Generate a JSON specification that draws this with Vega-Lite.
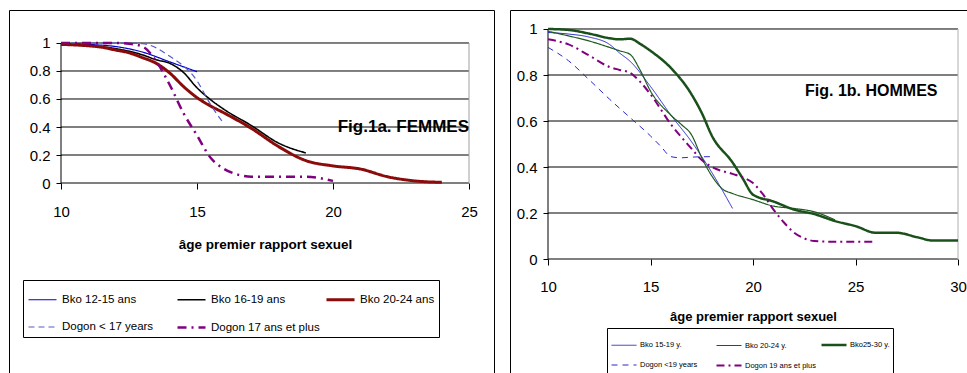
{
  "$schema": "https://vega.github.io/schema/vega-lite/v6.json",
  "background": "white",
  "padding": {"left": 8, "top": 9, "right": 0, "bottom": 0},
  "spacing": 14,
  "config": {
    "font": "Liberation Sans, Arial",
    "view": {"stroke": "black", "strokeWidth": 1},
    "axis": {"domain": false, "grid": false, "tickColor": "black", "labelColor": "black", "titleColor": "black", "labelFlush": false, "labelOverlap": false},
    "line": {"interpolate": "monotone"}
  },
  "datasets": {
    "grid": [{"g": 0}, {"g": 0.2}, {"g": 0.4}, {"g": 0.6}, {"g": 0.8}, {"g": 1}],
    "f": [
      {"s": "Bko 12-15 ans", "age": 10, "p": 0.998}, {"s": "Bko 12-15 ans", "age": 11, "p": 0.99}, {"s": "Bko 12-15 ans", "age": 12, "p": 0.975}, {"s": "Bko 12-15 ans", "age": 13, "p": 0.935}, {"s": "Bko 12-15 ans", "age": 14, "p": 0.865}, {"s": "Bko 12-15 ans", "age": 15, "p": 0.795},
      {"s": "Bko 16-19 ans", "age": 10, "p": 0.99}, {"s": "Bko 16-19 ans", "age": 11, "p": 0.98}, {"s": "Bko 16-19 ans", "age": 12, "p": 0.96}, {"s": "Bko 16-19 ans", "age": 13, "p": 0.915}, {"s": "Bko 16-19 ans", "age": 13.5, "p": 0.88}, {"s": "Bko 16-19 ans", "age": 14, "p": 0.855}, {"s": "Bko 16-19 ans", "age": 14.5, "p": 0.79}, {"s": "Bko 16-19 ans", "age": 15, "p": 0.68}, {"s": "Bko 16-19 ans", "age": 15.5, "p": 0.595}, {"s": "Bko 16-19 ans", "age": 16, "p": 0.525}, {"s": "Bko 16-19 ans", "age": 17, "p": 0.41}, {"s": "Bko 16-19 ans", "age": 18, "p": 0.285}, {"s": "Bko 16-19 ans", "age": 19, "p": 0.215},
      {"s": "Bko 20-24 ans", "age": 10, "p": 0.99}, {"s": "Bko 20-24 ans", "age": 11, "p": 0.98}, {"s": "Bko 20-24 ans", "age": 11.5, "p": 0.97}, {"s": "Bko 20-24 ans", "age": 12, "p": 0.95}, {"s": "Bko 20-24 ans", "age": 12.5, "p": 0.93}, {"s": "Bko 20-24 ans", "age": 13, "p": 0.895}, {"s": "Bko 20-24 ans", "age": 13.5, "p": 0.855}, {"s": "Bko 20-24 ans", "age": 14, "p": 0.785}, {"s": "Bko 20-24 ans", "age": 14.5, "p": 0.69}, {"s": "Bko 20-24 ans", "age": 15, "p": 0.61}, {"s": "Bko 20-24 ans", "age": 15.5, "p": 0.55}, {"s": "Bko 20-24 ans", "age": 16, "p": 0.5}, {"s": "Bko 20-24 ans", "age": 17, "p": 0.39}, {"s": "Bko 20-24 ans", "age": 18, "p": 0.26}, {"s": "Bko 20-24 ans", "age": 19, "p": 0.16}, {"s": "Bko 20-24 ans", "age": 20, "p": 0.122}, {"s": "Bko 20-24 ans", "age": 21, "p": 0.1}, {"s": "Bko 20-24 ans", "age": 22, "p": 0.045}, {"s": "Bko 20-24 ans", "age": 23, "p": 0.015}, {"s": "Bko 20-24 ans", "age": 24, "p": 0.005},
      {"s": "Dogon < 17 years", "age": 10, "p": 1}, {"s": "Dogon < 17 years", "age": 11, "p": 1}, {"s": "Dogon < 17 years", "age": 12, "p": 1}, {"s": "Dogon < 17 years", "age": 13, "p": 0.995}, {"s": "Dogon < 17 years", "age": 14, "p": 0.905}, {"s": "Dogon < 17 years", "age": 15, "p": 0.73}, {"s": "Dogon < 17 years", "age": 15.5, "p": 0.56}, {"s": "Dogon < 17 years", "age": 16, "p": 0.42},
      {"s": "Dogon 17 ans et plus", "age": 10, "p": 1}, {"s": "Dogon 17 ans et plus", "age": 11, "p": 1}, {"s": "Dogon 17 ans et plus", "age": 12, "p": 1}, {"s": "Dogon 17 ans et plus", "age": 12.5, "p": 0.995}, {"s": "Dogon 17 ans et plus", "age": 13, "p": 0.975}, {"s": "Dogon 17 ans et plus", "age": 13.5, "p": 0.87}, {"s": "Dogon 17 ans et plus", "age": 14, "p": 0.7}, {"s": "Dogon 17 ans et plus", "age": 14.5, "p": 0.5}, {"s": "Dogon 17 ans et plus", "age": 15, "p": 0.34}, {"s": "Dogon 17 ans et plus", "age": 15.5, "p": 0.18}, {"s": "Dogon 17 ans et plus", "age": 16, "p": 0.1}, {"s": "Dogon 17 ans et plus", "age": 16.5, "p": 0.06}, {"s": "Dogon 17 ans et plus", "age": 17, "p": 0.045}, {"s": "Dogon 17 ans et plus", "age": 18, "p": 0.045}, {"s": "Dogon 17 ans et plus", "age": 19, "p": 0.045}, {"s": "Dogon 17 ans et plus", "age": 20, "p": 0.015}
    ],
    "h": [
      {"s": "Bko 15-19 y.", "age": 10, "p": 0.985}, {"s": "Bko 15-19 y.", "age": 11, "p": 0.978}, {"s": "Bko 15-19 y.", "age": 12, "p": 0.965}, {"s": "Bko 15-19 y.", "age": 13, "p": 0.933}, {"s": "Bko 15-19 y.", "age": 13.5, "p": 0.895}, {"s": "Bko 15-19 y.", "age": 14, "p": 0.86}, {"s": "Bko 15-19 y.", "age": 15, "p": 0.75}, {"s": "Bko 15-19 y.", "age": 16, "p": 0.625}, {"s": "Bko 15-19 y.", "age": 17, "p": 0.51}, {"s": "Bko 15-19 y.", "age": 18, "p": 0.375}, {"s": "Bko 15-19 y.", "age": 19, "p": 0.22},
      {"s": "Bko 20-24 y.", "age": 10, "p": 0.99}, {"s": "Bko 20-24 y.", "age": 11, "p": 0.97}, {"s": "Bko 20-24 y.", "age": 12, "p": 0.948}, {"s": "Bko 20-24 y.", "age": 13, "p": 0.92}, {"s": "Bko 20-24 y.", "age": 13.5, "p": 0.905}, {"s": "Bko 20-24 y.", "age": 14, "p": 0.89}, {"s": "Bko 20-24 y.", "age": 14.5, "p": 0.82}, {"s": "Bko 20-24 y.", "age": 15, "p": 0.73}, {"s": "Bko 20-24 y.", "age": 16, "p": 0.625}, {"s": "Bko 20-24 y.", "age": 16.5, "p": 0.585}, {"s": "Bko 20-24 y.", "age": 17, "p": 0.54}, {"s": "Bko 20-24 y.", "age": 17.5, "p": 0.44}, {"s": "Bko 20-24 y.", "age": 18, "p": 0.36}, {"s": "Bko 20-24 y.", "age": 18.5, "p": 0.305}, {"s": "Bko 20-24 y.", "age": 19, "p": 0.285}, {"s": "Bko 20-24 y.", "age": 20, "p": 0.258}, {"s": "Bko 20-24 y.", "age": 21, "p": 0.23}, {"s": "Bko 20-24 y.", "age": 22, "p": 0.22}, {"s": "Bko 20-24 y.", "age": 23, "p": 0.205}, {"s": "Bko 20-24 y.", "age": 24, "p": 0.17},
      {"s": "Bko25-30 y.", "age": 10, "p": 1}, {"s": "Bko25-30 y.", "age": 11, "p": 0.996}, {"s": "Bko25-30 y.", "age": 12, "p": 0.98}, {"s": "Bko25-30 y.", "age": 13, "p": 0.96}, {"s": "Bko25-30 y.", "age": 13.5, "p": 0.955}, {"s": "Bko25-30 y.", "age": 14, "p": 0.958}, {"s": "Bko25-30 y.", "age": 14.5, "p": 0.935}, {"s": "Bko25-30 y.", "age": 15, "p": 0.905}, {"s": "Bko25-30 y.", "age": 16, "p": 0.83}, {"s": "Bko25-30 y.", "age": 17, "p": 0.716}, {"s": "Bko25-30 y.", "age": 17.5, "p": 0.635}, {"s": "Bko25-30 y.", "age": 18, "p": 0.535}, {"s": "Bko25-30 y.", "age": 19, "p": 0.42}, {"s": "Bko25-30 y.", "age": 19.5, "p": 0.35}, {"s": "Bko25-30 y.", "age": 20, "p": 0.28}, {"s": "Bko25-30 y.", "age": 21, "p": 0.25}, {"s": "Bko25-30 y.", "age": 22, "p": 0.215}, {"s": "Bko25-30 y.", "age": 23, "p": 0.195}, {"s": "Bko25-30 y.", "age": 24, "p": 0.165}, {"s": "Bko25-30 y.", "age": 25, "p": 0.143}, {"s": "Bko25-30 y.", "age": 26, "p": 0.114}, {"s": "Bko25-30 y.", "age": 27, "p": 0.114}, {"s": "Bko25-30 y.", "age": 28, "p": 0.095}, {"s": "Bko25-30 y.", "age": 28.8, "p": 0.08}, {"s": "Bko25-30 y.", "age": 30, "p": 0.08},
      {"s": "Dogon <19 years", "age": 10, "p": 0.92}, {"s": "Dogon <19 years", "age": 11, "p": 0.862}, {"s": "Dogon <19 years", "age": 12, "p": 0.78}, {"s": "Dogon <19 years", "age": 13, "p": 0.695}, {"s": "Dogon <19 years", "age": 14, "p": 0.615}, {"s": "Dogon <19 years", "age": 15, "p": 0.535}, {"s": "Dogon <19 years", "age": 15.5, "p": 0.49}, {"s": "Dogon <19 years", "age": 16, "p": 0.445}, {"s": "Dogon <19 years", "age": 16.5, "p": 0.44}, {"s": "Dogon <19 years", "age": 17, "p": 0.443}, {"s": "Dogon <19 years", "age": 18, "p": 0.445},
      {"s": "Dogon 19 ans et plus", "age": 10, "p": 0.955}, {"s": "Dogon 19 ans et plus", "age": 11, "p": 0.933}, {"s": "Dogon 19 ans et plus", "age": 12, "p": 0.885}, {"s": "Dogon 19 ans et plus", "age": 13, "p": 0.835}, {"s": "Dogon 19 ans et plus", "age": 13.5, "p": 0.822}, {"s": "Dogon 19 ans et plus", "age": 14, "p": 0.81}, {"s": "Dogon 19 ans et plus", "age": 14.5, "p": 0.77}, {"s": "Dogon 19 ans et plus", "age": 15, "p": 0.716}, {"s": "Dogon 19 ans et plus", "age": 16, "p": 0.585}, {"s": "Dogon 19 ans et plus", "age": 17, "p": 0.48}, {"s": "Dogon 19 ans et plus", "age": 17.5, "p": 0.43}, {"s": "Dogon 19 ans et plus", "age": 18, "p": 0.4}, {"s": "Dogon 19 ans et plus", "age": 19, "p": 0.37}, {"s": "Dogon 19 ans et plus", "age": 19.5, "p": 0.355}, {"s": "Dogon 19 ans et plus", "age": 20, "p": 0.33}, {"s": "Dogon 19 ans et plus", "age": 20.5, "p": 0.28}, {"s": "Dogon 19 ans et plus", "age": 21, "p": 0.215}, {"s": "Dogon 19 ans et plus", "age": 21.5, "p": 0.16}, {"s": "Dogon 19 ans et plus", "age": 22, "p": 0.115}, {"s": "Dogon 19 ans et plus", "age": 22.5, "p": 0.09}, {"s": "Dogon 19 ans et plus", "age": 23, "p": 0.078}, {"s": "Dogon 19 ans et plus", "age": 24, "p": 0.075}, {"s": "Dogon 19 ans et plus", "age": 25, "p": 0.075}, {"s": "Dogon 19 ans et plus", "age": 26, "p": 0.075}
    ]
  },
  "resolve": {
    "scale": {"x": "independent", "y": "independent", "color": "independent", "strokeDash": "independent", "strokeWidth": "independent"},
    "legend": {"color": "independent", "strokeDash": "independent", "strokeWidth": "independent"}
  },
  "hconcat": [
    {
      "width": 485,
      "height": 370,
      "layer": [
        {
          "data": {"name": "grid"},
          "mark": {"type": "rule", "color": "black", "strokeWidth": 1},
          "encoding": {
            "y": {"field": "g", "type": "quantitative", "scale": {"domain": [-1.4071, 1.2357], "nice": false, "zero": false},
              "axis": {"orient": "left", "offset": -52, "values": [0, 0.2, 0.4, 0.6, 0.8, 1], "format": "~g", "tickSize": 5, "labelPadding": 6, "labelFontSize": 15, "title": null}},
            "x": {"datum": 10, "type": "quantitative", "scale": {"domain": [8.088, 25.919], "nice": false, "zero": false},
              "axis": {"orient": "bottom", "offset": -197, "values": [10, 15, 20, 25], "tickSize": 6, "labelBaseline": "middle", "labelPadding": 22, "labelFontSize": 15, "title": "âge premier rapport sexuel", "titleFontSize": 13.5, "titleFontWeight": "bold", "titleX": 256, "titleY": 61, "titleBaseline": "middle"}},
            "x2": {"datum": 25}
          }
        },
        {
          "data": {"values": [{}]},
          "mark": {"type": "rule", "color": "black", "strokeWidth": 1},
          "encoding": {
            "x": {"datum": 10, "type": "quantitative", "scale": {"domain": [8.088, 25.919], "nice": false, "zero": false}},
            "y": {"datum": 0, "type": "quantitative", "scale": {"domain": [-1.4071, 1.2357], "nice": false, "zero": false}},
            "y2": {"datum": 1}
          }
        },
        {
          "data": {"values": [{}]},
          "mark": {"type": "rule", "color": "#a0a0a0", "strokeWidth": 1},
          "encoding": {
            "x": {"datum": 25, "type": "quantitative", "scale": {"domain": [8.088, 25.919], "nice": false, "zero": false}},
            "y": {"datum": 0, "type": "quantitative", "scale": {"domain": [-1.4071, 1.2357], "nice": false, "zero": false}},
            "y2": {"datum": 1}
          }
        },
        {
          "data": {"name": "f"},
          "mark": {"type": "line", "interpolate": "monotone"},
          "encoding": {
            "x": {"field": "age", "type": "quantitative", "scale": {"domain": [8.088, 25.919], "nice": false, "zero": false}},
            "y": {"field": "p", "type": "quantitative", "scale": {"domain": [-1.4071, 1.2357], "nice": false, "zero": false}},
            "color": {"field": "s", "type": "nominal",
              "scale": {"domain": ["Bko 12-15 ans", "Bko 16-19 ans", "Bko 20-24 ans", "Dogon < 17 years", "Dogon 17 ans et plus"], "range": ["#0000cc", "#000000", "#8b0a0a", "#5a5acc", "#800080"]},
              "legend": {"title": null, "orient": "none", "legendX": 14, "legendY": 270, "direction": "horizontal", "columns": 3, "symbolType": "stroke", "symbolSize": 784, "strokeColor": "black", "padding": 4, "rowPadding": 6, "columnPadding": 0, "gridAlign": "all", "labelFontSize": 11.5, "labelOffset": 4, "labelLimit": 300, "labelColor": "black"}},
            "strokeDash": {"field": "s", "type": "nominal",
              "scale": {"domain": ["Bko 12-15 ans", "Bko 16-19 ans", "Bko 20-24 ans", "Dogon < 17 years", "Dogon 17 ans et plus"], "range": [[1, 0], [1, 0], [1, 0], [6, 4], [9, 5, 2, 5]]},
              "legend": {"title": null, "orient": "none", "legendX": 14, "legendY": 270, "direction": "horizontal", "columns": 3, "symbolType": "stroke", "symbolSize": 784, "strokeColor": "black", "padding": 4, "rowPadding": 6, "columnPadding": 0, "gridAlign": "all", "labelFontSize": 11.5, "labelOffset": 4, "labelLimit": 300, "labelColor": "black"}},
            "strokeWidth": {"field": "s", "type": "nominal",
              "scale": {"type": "ordinal", "domain": ["Bko 12-15 ans", "Bko 16-19 ans", "Bko 20-24 ans", "Dogon < 17 years", "Dogon 17 ans et plus"], "range": [1.2, 1.6, 3, 1.2, 2.5]},
              "legend": {"title": null, "orient": "none", "legendX": 14, "legendY": 270, "direction": "horizontal", "columns": 3, "symbolType": "stroke", "symbolSize": 784, "strokeColor": "black", "padding": 4, "rowPadding": 6, "columnPadding": 0, "gridAlign": "all", "labelFontSize": 11.5, "labelOffset": 4, "labelLimit": 300, "labelColor": "black"}}
          }
        },
        {
          "data": {"values": [{}]},
          "mark": {"type": "text", "align": "right", "baseline": "middle", "fontSize": 17, "fontWeight": "bold", "color": "black"},
          "encoding": {
            "x": {"datum": 25, "type": "quantitative", "scale": {"domain": [8.088, 25.919], "nice": false, "zero": false}},
            "y": {"datum": 0.4, "type": "quantitative", "scale": {"domain": [-1.4071, 1.2357], "nice": false, "zero": false}},
            "text": {"value": "Fig.1a. FEMMES"}
          }
        }
      ]
    },
    {
      "width": 465,
      "height": 370,
      "layer": [
        {
          "data": {"name": "grid"},
          "mark": {"type": "rule", "color": "black", "strokeWidth": 1},
          "encoding": {
            "y": {"field": "g", "type": "quantitative", "scale": {"domain": [-0.526, 1.0826], "nice": false, "zero": false},
              "axis": {"orient": "left", "offset": -38, "values": [0, 0.2, 0.4, 0.6, 0.8, 1], "format": "~g", "tickSize": 5, "labelPadding": 6, "labelFontSize": 15, "title": null}},
            "x": {"datum": 10, "type": "quantitative", "scale": {"domain": [8.146, 30.829], "nice": false, "zero": false},
              "axis": {"orient": "bottom", "offset": -121, "values": [10, 15, 20, 25, 30], "tickSize": 6, "labelBaseline": "middle", "labelPadding": 21, "labelFontSize": 15, "title": "âge premier rapport sexuel", "titleFontSize": 13, "titleFontWeight": "bold", "titleX": 243, "titleY": 57, "titleBaseline": "middle"}},
            "x2": {"datum": 30}
          }
        },
        {
          "data": {"values": [{}]},
          "mark": {"type": "rule", "color": "black", "strokeWidth": 1},
          "encoding": {
            "x": {"datum": 10, "type": "quantitative", "scale": {"domain": [8.146, 30.829], "nice": false, "zero": false}},
            "y": {"datum": 0, "type": "quantitative", "scale": {"domain": [-0.526, 1.0826], "nice": false, "zero": false}},
            "y2": {"datum": 1}
          }
        },
        {
          "data": {"values": [{}]},
          "mark": {"type": "rule", "color": "#b0b0b0", "strokeWidth": 1},
          "encoding": {
            "x": {"datum": 30, "type": "quantitative", "scale": {"domain": [8.146, 30.829], "nice": false, "zero": false}},
            "y": {"datum": 0, "type": "quantitative", "scale": {"domain": [-0.526, 1.0826], "nice": false, "zero": false}},
            "y2": {"datum": 1}
          }
        },
        {
          "data": {"name": "h"},
          "mark": {"type": "line", "interpolate": "monotone"},
          "encoding": {
            "x": {"field": "age", "type": "quantitative", "scale": {"domain": [8.146, 30.829], "nice": false, "zero": false}},
            "y": {"field": "p", "type": "quantitative", "scale": {"domain": [-0.526, 1.0826], "nice": false, "zero": false}},
            "color": {"field": "s", "type": "nominal",
              "scale": {"domain": ["Bko 15-19 y.", "Bko 20-24 y.", "Bko25-30 y.", "Dogon <19 years", "Dogon 19 ans et plus"], "range": ["#2a2acc", "#1e5a1e", "#1a501a", "#2a2acc", "#800080"]},
              "legend": {"title": null, "orient": "none", "legendX": 97, "legendY": 318, "direction": "horizontal", "columns": 3, "symbolType": "stroke", "symbolSize": 625, "strokeColor": "black", "padding": 3, "rowPadding": 2, "columnPadding": 0, "gridAlign": "all", "labelFontSize": 7.5, "labelOffset": 2, "labelLimit": 300, "labelColor": "black"}},
            "strokeDash": {"field": "s", "type": "nominal",
              "scale": {"domain": ["Bko 15-19 y.", "Bko 20-24 y.", "Bko25-30 y.", "Dogon <19 years", "Dogon 19 ans et plus"], "range": [[1, 0], [1, 0], [1, 0], [6, 5], [8, 4, 2, 4]]},
              "legend": {"title": null, "orient": "none", "legendX": 97, "legendY": 318, "direction": "horizontal", "columns": 3, "symbolType": "stroke", "symbolSize": 625, "strokeColor": "black", "padding": 3, "rowPadding": 2, "columnPadding": 0, "gridAlign": "all", "labelFontSize": 7.5, "labelOffset": 2, "labelLimit": 300, "labelColor": "black"}},
            "strokeWidth": {"field": "s", "type": "nominal",
              "scale": {"type": "ordinal", "domain": ["Bko 15-19 y.", "Bko 20-24 y.", "Bko25-30 y.", "Dogon <19 years", "Dogon 19 ans et plus"], "range": [1, 1.2, 2.5, 1, 2]},
              "legend": {"title": null, "orient": "none", "legendX": 97, "legendY": 318, "direction": "horizontal", "columns": 3, "symbolType": "stroke", "symbolSize": 625, "strokeColor": "black", "padding": 3, "rowPadding": 2, "columnPadding": 0, "gridAlign": "all", "labelFontSize": 7.5, "labelOffset": 2, "labelLimit": 300, "labelColor": "black"}}
          }
        },
        {
          "data": {"values": [{}]},
          "mark": {"type": "text", "align": "right", "baseline": "middle", "fontSize": 16, "fontWeight": "bold", "color": "black"},
          "encoding": {
            "x": {"datum": 29, "type": "quantitative", "scale": {"domain": [8.146, 30.829], "nice": false, "zero": false}},
            "y": {"datum": 0.73, "type": "quantitative", "scale": {"domain": [-0.526, 1.0826], "nice": false, "zero": false}},
            "text": {"value": "Fig. 1b. HOMMES"}
          }
        }
      ]
    }
  ]
}
